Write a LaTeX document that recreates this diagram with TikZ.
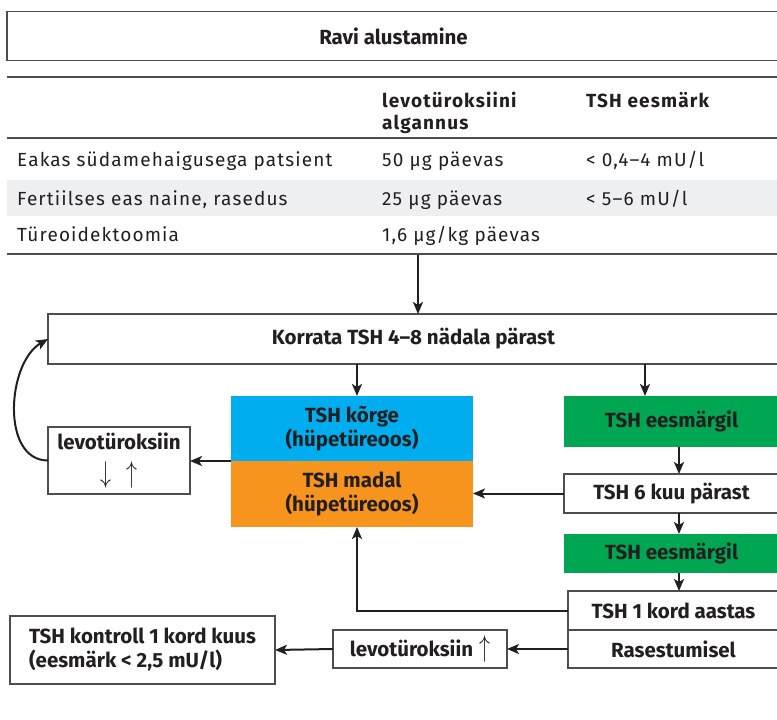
\documentclass[tikz,border=0pt]{standalone}
\usepackage{fix-cm}
\usepackage{fontspec}
\setmainfont{Fira Sans}
\newfontfamily\tabfont{Fira Sans}[LetterSpace=6]
\newfontfamily\flowfont{Fira Sans}
\usetikzlibrary{arrows.meta}
\definecolor{tshblue}{HTML}{00AEEF}
\definecolor{tshorange}{HTML}{F7941D}
\definecolor{tshgreen}{HTML}{00A651}
\definecolor{rowgrey}{HTML}{EEEFF1}
\definecolor{ink}{HTML}{231F20}
\definecolor{rim}{HTML}{4D4D4F}
\newcommand{\tabsize}{\fontsize{19}{22}\selectfont}
\newcommand{\flowsize}{\fontsize{20.5}{24}\selectfont}
\newcommand{\tallarrow}[1]{\scalebox{1.1}[1.5]{\fontsize{20}{20}\selectfont\mdseries$#1$}}

\begin{document}
\begin{tikzpicture}[x=1pt, y=-1pt,
    box/.style={draw=rim, line width=1.3pt, rectangle, inner sep=0pt, outer sep=0pt,
                text centered, align=center, text=ink, font=\flowfont\flowsize\bfseries},
    colbox/.style={box, draw=none},
    cell/.style={anchor=base west, inner sep=0pt, text=ink, font=\tabfont\tabsize},
    head/.style={cell, font=\tabfont\tabsize\bfseries, align=left},
    rule/.style={draw=rim, line width=2pt},
    arr/.style={-{Stealth[length=12pt, width=10pt, inset=3pt]}, line width=2pt, draw=ink}]
    \useasboundingbox (0,0) rectangle (777,720);

    % title and table
    \node[box, minimum width=773, minimum height=49] (ravi) at (393.5, 36) {Ravi alustamine};
    \fill[rowgrey] (7, 180) rectangle (777, 216);
    \draw[rule] (7, 77) -- (777, 77);
    \draw[rule, line width=1.5pt] (7, 138) -- (777, 138);
    \draw[rule] (7, 254) -- (777, 254);
    \node[head] (hdose) at (382, 129) {levotüroksiini\\algannus};
    \node[head] (hgoal) at (586, 107) {TSH eesmärk};
    \node[cell] (p1) at (17, 166) {Eakas südamehaigusega patsient};
    \node[cell] (p2) at (17, 205) {Fertiilses eas naine, rasedus};
    \node[cell] (p3) at (17, 241) {Türeoidektoomia};
    \node[cell] (d1) at (382, 166) {50 µg päevas};
    \node[cell] (d2) at (382, 205) {25 µg päevas};
    \node[cell] (d3) at (382, 241) {1,6 µg/kg päevas};
    \node[cell] (g1) at (586, 166) {< 0,4–4 mU/l};
    \node[cell] (g2) at (586, 205) {< 5–6 mU/l};
    \coordinate (tbl) at (418, 255);

    % flowchart
    \node[box, minimum width=731, minimum height=50] (korrata) at (413.5, 339) {Korrata TSH 4–8 nädala pärast};
    \node[colbox, fill=tshblue, minimum width=242, minimum height=65] (korge) at (352, 428.5) {TSH kõrge\\(hüpetüreoos)};
    \node[colbox, fill=tshorange, minimum width=242, minimum height=66] (madal) at (352, 494) {TSH madal\\(hüpetüreoos)};
    \node[box, minimum width=142, minimum height=67] (levo) at (119, 460.5)
        {levotüroksiin\\[9pt]\tallarrow{\downarrow}\hspace{15pt}\tallarrow{\uparrow}};
    \node[colbox, fill=tshgreen, minimum width=215, minimum height=51] (eesm1) at (671.5, 421.5) {TSH eesmärgil};
    \node[box, minimum width=215, minimum height=39] (kuus) at (671.5, 493.5) {TSH 6 kuu pärast};
    \node[colbox, fill=tshgreen, minimum width=215, minimum height=39] (eesm2) at (671.5, 553.5) {TSH eesmärgil};
    \node[box, minimum width=211, minimum height=39] (aastas) at (673.5, 610.5) {TSH 1 kord aastas};
    \node[box, minimum width=211, minimum height=38] (rasest) at (673.5, 649) {Rasestumisel};
    \node[box, minimum width=174, minimum height=38] (levoup) at (420, 649)
        {levotüroksiin\hspace{6pt}\tallarrow{\uparrow}};
    \node[box, minimum width=265, minimum height=68, align=left] (kontroll) at (142.5, 650)
        {TSH kontroll 1 kord kuus\\(eesmärk < 2,5 mU/l)};

    \coordinate (xk) at (357, 0);
    \coordinate (xe) at (645, 0);
    \coordinate (xs) at (679, 0);
    \draw[arr] (tbl) -- (tbl |- korrata.north);
    \draw[arr] (korrata.south -| xk) -- (korge.north -| xk);
    \draw[arr] (korrata.south -| xe) -- (eesm1.north -| xe);
    \foreach \a/\b in {eesm1/kuus, kuus/eesm2, eesm2/aastas}
        \draw[arr] (\a.south -| xs) -- (\b.north -| xs);
    \draw[arr] (korge.south west) -- (korge.south west -| levo.east);
    \draw[arr] (levo.west) to[out=180, in=210, looseness=1.0] (korrata.west);
    \draw[arr] (kuus.west) -- (kuus.west -| madal.east);
    \draw[arr] (aastas.west) -| (madal.south -| xk);
    \draw[arr] (rasest.west) -- (levoup.east);
    \draw[arr] (levoup.west) -- (kontroll.east);
\end{tikzpicture}
\end{document}
